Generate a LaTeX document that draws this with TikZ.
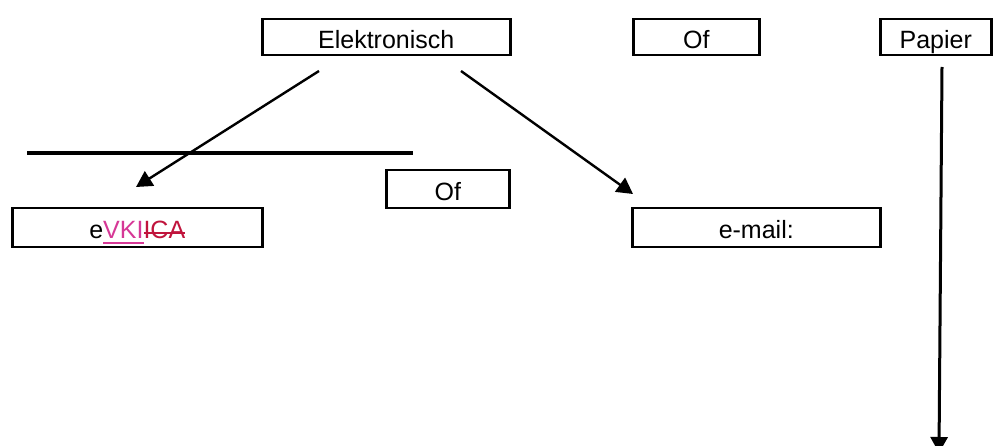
\documentclass[tikz,border=0pt]{standalone}
\usepackage{fontspec}
\setmainfont{Liberation Sans}
\usetikzlibrary{arrows.meta}
\definecolor{inspink}{RGB}{214,56,150}
\definecolor{delred}{RGB}{192,20,60}
\newcommand{\myunder}[1]{\setbox0\hbox{#1}\rlap{\rule[-5.5pt]{\wd0}{2pt}}\box0}
\newcommand{\mystrike}[1]{\setbox0\hbox{#1}\rlap{\rule[5pt]{\wd0}{2pt}}\box0}
\begin{document}
\begin{tikzpicture}[x=1pt,y=-1pt,
  boxnode/.style={draw,line width=2.5pt,inner sep=0pt,anchor=north west,
    text height=22pt,text depth=0pt,font=\fontsize{25}{29}\selectfont},
  conn/.style={line width=2.4pt,-{Triangle[length=16pt,width=17pt]}}]
\clip (0,0) rectangle (993,446);
\fill[white] (0,0) rectangle (993,446);
\node[boxnode,minimum width=248pt,minimum height=36pt] (elek) at (261,18) {Elektronisch};
\node[boxnode,minimum width=126pt,minimum height=36pt] (of1) at (632,18) {Of};
\node[boxnode,minimum width=111pt,minimum height=36pt] (papier) at (879,18) {Papier};
\node[boxnode,minimum width=123pt,minimum height=38pt] (of2) at (385,169) {Of};
\node[boxnode,minimum width=250pt,minimum height=39pt] (evki) at (11,207) {e\textcolor{inspink}{\myunder{VKI}}\textcolor{delred}{\mystrike{ICA}}};
\node[boxnode,minimum width=248pt,minimum height=39pt] (email) at (631,207) {e-mail:};
\coordinate (hlA) at (27,153);
\coordinate (hlB) at (413,153);
\draw[line width=3.5pt] (hlA) -- (hlB);
\coordinate (elekL) at (319,71);
\coordinate (elekR) at (461,71);
\coordinate (evkiT) at (136,187);
\coordinate (emailT) at (633,194);
\coordinate (papB) at (942,67);
\coordinate (papT) at (939,453);
\draw[conn] (elekL) -- (evkiT);
\draw[conn] (elekR) -- (emailT);
\draw[conn,line width=3pt] (papB) -- (papT);
\end{tikzpicture}
\end{document}
